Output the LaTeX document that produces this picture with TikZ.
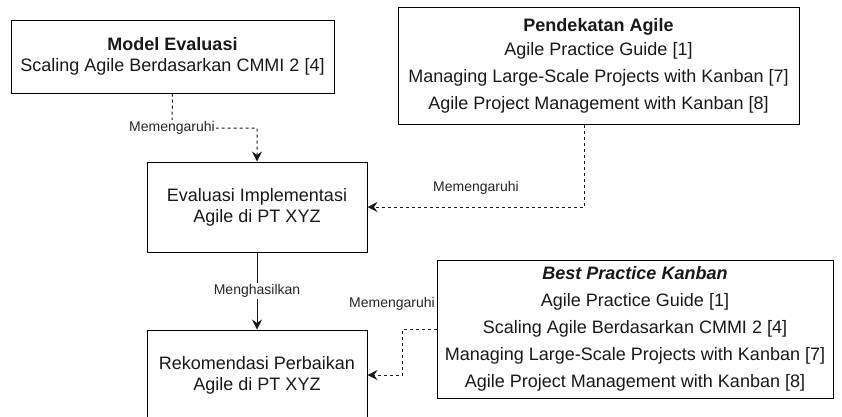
\documentclass[tikz,border=0pt]{standalone}
\usepackage{fontspec}
\setmainfont{Liberation Sans}
\usetikzlibrary{arrows.meta}

\begin{document}
\begin{tikzpicture}[x=1pt,y=-1pt,
  box/.style={draw=black,line width=1pt,rectangle,align=center,inner sep=0pt,
    font=\fontsize{18}{21}\selectfont,text=black!90},
  listbox/.style={box,font=\fontsize{18}{27}\selectfont},
  lbl/.style={font=\fontsize{14}{16}\selectfont,text=black!85,inner sep=1pt},
  conn/.style={line width=1pt,draw=black!90,
    -{Stealth[length=10pt,width=10pt,inset=3.5pt]}},
  dashconn/.style={conn,dash pattern=on 3pt off 3pt}]

\useasboundingbox[fill=white] (0,0) rectangle (842,416);

% source boxes
\node[box,minimum width=323pt,minimum height=73pt] (model) at (172.5,56.5)
  {\textbf{Model Evaluasi}\\Scaling Agile Berdasarkan CMMI 2 [4]};

\node[listbox,minimum width=401pt,minimum height=117pt] (agile) at (598.5,65.5)
  {\textbf{Pendekatan Agile}\\[-3pt]
   Agile Practice Guide [1]\\
   Managing Large-Scale Projects with Kanban [7]\\
   Agile Project Management with Kanban [8]};

\node[listbox,minimum width=396pt,minimum height=138pt] (best) at (635,329)
  {\textbf{\textit{Best Practice Kanban}}\\
   Agile Practice Guide [1]\\
   Scaling Agile Berdasarkan CMMI 2 [4]\\
   Managing Large-Scale Projects with Kanban [7]\\
   Agile Project Management with Kanban [8]};

% main flow
\node[box,minimum width=220pt,minimum height=90pt] (eval) at (257,207)
  {Evaluasi Implementasi\\Agile di PT XYZ};
\node[box,minimum width=220pt,minimum height=90pt] (rek) at (257,375)
  {Rekomendasi Perbaikan\\Agile di PT XYZ};

% connectors
\coordinate (m2) at (172,128);
\coordinate (m3) at (eval.north |- 0,128);
\draw[dashconn] (model.south) -- (m2) -- (m3) -- (eval.north);
\node[lbl,fill=white] (lm) at (m2) {Memengaruhi};

\coordinate (a1) at (agile.south -| 584,0);
\coordinate (a2) at (584,207);
\draw[dashconn] (a1) -- (a2) -- (eval.east);
\node[lbl] (la) at (476,188) {Memengaruhi};

\draw[conn] (eval.south) -- (rek.north)
  node[lbl,fill=white,midway] (lh) {Menghasilkan};

\coordinate (b1) at (402,329);
\coordinate (b2) at (402,375);
\draw[dashconn] (best.west) -- (b1) -- (b2) -- (rek.east);
\node[lbl] (lb) at (392,304) {Memengaruhi};

\end{tikzpicture}
\end{document}
